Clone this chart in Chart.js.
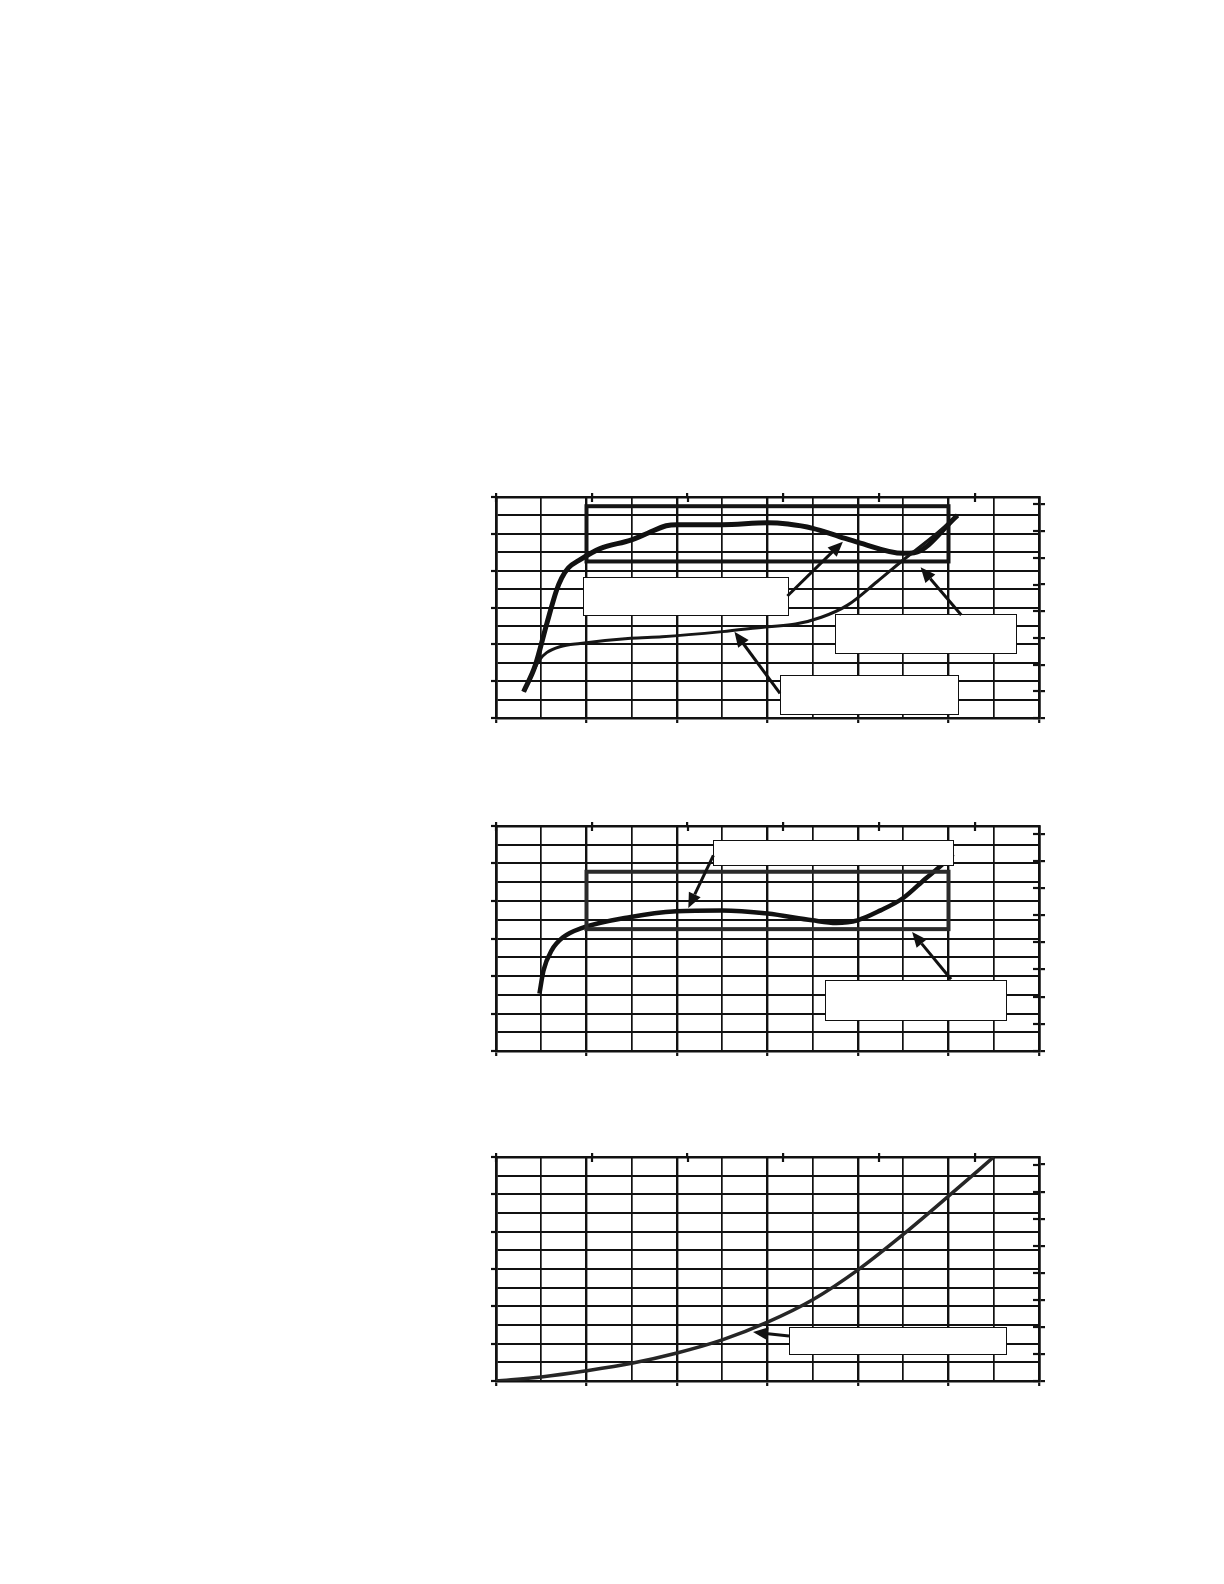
<!DOCTYPE html>
<html>
<head>
<meta charset="utf-8">
<script src="https://cdn.jsdelivr.net/npm/chart.js@4.4.1/dist/chart.umd.min.js"></script>
<style>
  html, body { margin: 0; padding: 0; background: #fff; }
  body { width: 1224px; height: 1584px; position: relative; overflow: hidden; }
  canvas { position: absolute; }
</style>
</head>
<body>
<canvas id="chart1" width="554" height="230" style="left:491px;top:493px;width:554px;height:230px"></canvas>
<canvas id="chart2" width="554" height="234" style="left:491px;top:822px;width:554px;height:234px"></canvas>
<canvas id="chart3" width="554" height="233" style="left:491px;top:1153px;width:554px;height:233px"></canvas>
<script>
// --- data (x in major grid units 0..6, y in major grid units 0..6) ---

// top panel, thick curve
const c1ThickX = [0.305, 0.43, 0.56, 0.67, 0.725, 0.8, 0.93, 1.15, 1.49, 1.675, 1.88, 2.0, 2.5, 3.0, 3.225, 3.5, 3.8, 4.0, 4.5, 4.62, 5.1];
const c1ThickY = [0.715, 1.4, 2.55, 3.475, 3.8, 4.075, 4.3, 4.6, 4.83, 5.015, 5.22, 5.25, 5.25, 5.3, 5.265, 5.15, 4.92, 4.77, 4.47, 4.485, 5.5];
// top panel, thin curve
const c1ThinX = [0.305, 0.48, 0.56, 0.705, 0.93, 1.49, 1.835, 2.5, 3.0, 3.31, 3.595, 3.885, 4.21, 4.5, 4.825, 5.1];
const c1ThinY = [0.715, 1.575, 1.775, 1.935, 2.025, 2.165, 2.205, 2.345, 2.48, 2.55, 2.735, 3.065, 3.7, 4.29, 4.92, 5.5];

// middle panel
const c2X = [0.48, 0.525, 0.615, 0.745, 0.93, 1.49, 1.995, 2.495, 3.0, 3.495, 3.76, 3.995, 4.25, 4.5, 4.745, 4.93, 5.05];
const c2Y = [1.53, 2.15, 2.685, 3.04, 3.265, 3.575, 3.725, 3.75, 3.665, 3.485, 3.415, 3.485, 3.75, 4.08, 4.595, 4.97, 5.25];

// bottom panel
const c3X = [0, 0.5, 1, 1.5, 2, 2.5, 3, 3.5, 4, 4.5, 5, 5.5];
const c3Y = [0, 0.11, 0.275, 0.475, 0.75, 1.1, 1.575, 2.175, 2.975, 3.925, 4.95, 6.0];

// frames [x0, y0, x1, y1], empty callout boxes [x0, y0, x1, y1], arrows [fromX, fromY, tipX, tipY]
const c1Frames = [[1, 4.25, 5, 5.75]];
const c1Boxes = [[0.959, 2.789, 3.229, 3.837], [3.751, 1.757, 5.742, 2.816], [3.138, 0.100, 5.108, 1.159]];
const c1Arrows = [[3.220, 3.313, 3.833, 4.787], [5.141, 2.797, 4.692, 4.092], [3.138, 0.671, 2.635, 2.343]];

const c2Frames = [[1, 3.25, 5, 4.78]];
const c2Boxes = [[2.402, 4.952, 5.047, 5.637], [3.638, 0.837, 5.632, 1.904]];
const c2Arrows = [[2.402, 5.219, 2.125, 3.813], [5.028, 1.912, 4.598, 3.173]];

const c3Boxes = [[3.238, 0.733, 5.640, 1.455]];
const c3Arrows = [[3.238, 1.203, 2.840, 1.310]];

const ink = '#111';

function pts(xs, ys) {
  return xs.map((x, i) => ({ x: x, y: ys[i] }));
}

function isMajor(c) {
  return c.tick && Math.abs(c.tick.value - Math.round(c.tick.value)) < 1e-6;
}

function axisSet() {
  return {
    x: {
      type: 'linear', position: 'bottom', min: 0, max: 6,
      ticks: { display: false, stepSize: 0.5 },
      grid: {
        color: ink,
        lineWidth: c => isMajor(c) ? 2.4 : 1.7,
        tickColor: c => isMajor(c) ? ink : 'rgba(0,0,0,0)',
        tickLength: 5, tickWidth: 2.2
      },
      border: { display: true, color: ink, width: 2.6 }
    },
    y: {
      type: 'linear', position: 'left', min: 0, max: 6,
      ticks: { display: false, stepSize: 0.5 },
      grid: {
        color: ink,
        lineWidth: 2,
        tickColor: c => isMajor(c) ? ink : 'rgba(0,0,0,0)',
        tickLength: 5, tickWidth: 2.2
      },
      border: { display: true, color: ink, width: 2.6 }
    },
    x2: {
      type: 'linear', position: 'top', min: 0, max: 5.67,
      ticks: { display: false, stepSize: 1, includeBounds: false },
      grid: { drawOnChartArea: false, color: ink, tickLength: 4, lineWidth: 2.2 },
      border: { display: true, color: ink, width: 2.6 }
    },
    y2: {
      type: 'linear', position: 'right', min: 0, max: 8.28,
      ticks: { display: false, stepSize: 1, includeBounds: false },
      grid: { drawOnChartArea: false, color: ink, tickLength: 6, lineWidth: 2.2 },
      border: { display: true, color: ink, width: 2.6 }
    }
  };
}

function arrow(ctx, x0, y0, x1, y1) {
  const ang = Math.atan2(y1 - y0, x1 - x0);
  const len = 15, half = 6.5;
  const bx = x1 - Math.cos(ang) * len, by = y1 - Math.sin(ang) * len;
  ctx.beginPath();
  ctx.moveTo(x0, y0);
  ctx.lineTo(bx, by);
  ctx.stroke();
  ctx.beginPath();
  ctx.moveTo(x1, y1);
  ctx.lineTo(bx + Math.sin(ang) * half, by - Math.cos(ang) * half);
  ctx.lineTo(bx - Math.sin(ang) * half, by + Math.cos(ang) * half);
  ctx.closePath();
  ctx.fill();
}

// cross ticks on the top/right axes, boxed ranges and empty callouts
const paperMarks = {
  id: 'paperMarks',
  afterDatasetsDraw(chart, args, opts) {
    const { ctx, chartArea: a, scales: { x, y, x2, y2 } } = chart;
    ctx.save();
    ctx.strokeStyle = ink;
    ctx.lineWidth = 2.2;
    x2.ticks.forEach(t => {
      const px = Math.round(x2.getPixelForValue(t.value));
      ctx.beginPath(); ctx.moveTo(px, a.top); ctx.lineTo(px, a.top + 5); ctx.stroke();
    });
    y2.ticks.forEach(t => {
      const py = Math.round(y2.getPixelForValue(t.value));
      ctx.beginPath(); ctx.moveTo(a.right - 6, py); ctx.lineTo(a.right, py); ctx.stroke();
    });

    ctx.strokeStyle = opts.frameColor || ink;
    ctx.lineWidth = 4;
    (opts.frames || []).forEach(f => {
      const l = x.getPixelForValue(f[0]), r = x.getPixelForValue(f[2]);
      const t = y.getPixelForValue(f[3]), b = y.getPixelForValue(f[1]);
      ctx.strokeRect(l, t, r - l, b - t);
    });

    ctx.fillStyle = '#fff';
    ctx.strokeStyle = ink;
    ctx.lineWidth = 1;
    (opts.boxes || []).forEach(f => {
      const l = Math.round(x.getPixelForValue(f[0])) + 0.5, r = Math.round(x.getPixelForValue(f[2])) + 0.5;
      const t = Math.round(y.getPixelForValue(f[3])) + 0.5, b = Math.round(y.getPixelForValue(f[1])) + 0.5;
      ctx.fillRect(l, t, r - l, b - t);
      ctx.strokeRect(l, t, r - l, b - t);
    });

    ctx.fillStyle = ink;
    ctx.strokeStyle = ink;
    ctx.lineWidth = 3;
    (opts.arrows || []).forEach(r => {
      arrow(ctx, x.getPixelForValue(r[0]), y.getPixelForValue(r[1]),
        x.getPixelForValue(r[2]), y.getPixelForValue(r[3]));
    });
    ctx.restore();
  }
};

function lineSet(data, width, color) {
  return {
    data: data,
    borderColor: color,
    borderWidth: width,
    pointRadius: 0,
    fill: false,
    cubicInterpolationMode: 'monotone',
    xAxisID: 'x',
    yAxisID: 'y'
  };
}

function makeChart(id, datasets, marks) {
  return new Chart(document.getElementById(id), {
    type: 'line',
    data: { datasets: datasets },
    options: {
      responsive: false,
      animation: false,
      events: [],
      layout: { padding: 0 },
      plugins: { legend: { display: false }, tooltip: { enabled: false }, paperMarks: marks },
      scales: axisSet()
    },
    plugins: [paperMarks]
  });
}

makeChart('chart1', [
  lineSet(pts(c1ThinX, c1ThinY), 3, '#161616'),
  lineSet(pts(c1ThickX, c1ThickY), 5, '#111')
], { frames: c1Frames, boxes: c1Boxes, arrows: c1Arrows, frameColor: '#151515' });

makeChart('chart2', [
  lineSet(pts(c2X, c2Y), 4.5, '#111')
], { frames: c2Frames, boxes: c2Boxes, arrows: c2Arrows, frameColor: '#2a2a2a' });

makeChart('chart3', [
  lineSet(pts(c3X, c3Y), 3.5, '#262626')
], { frames: [], boxes: c3Boxes, arrows: c3Arrows });
</script>
</body>
</html>
